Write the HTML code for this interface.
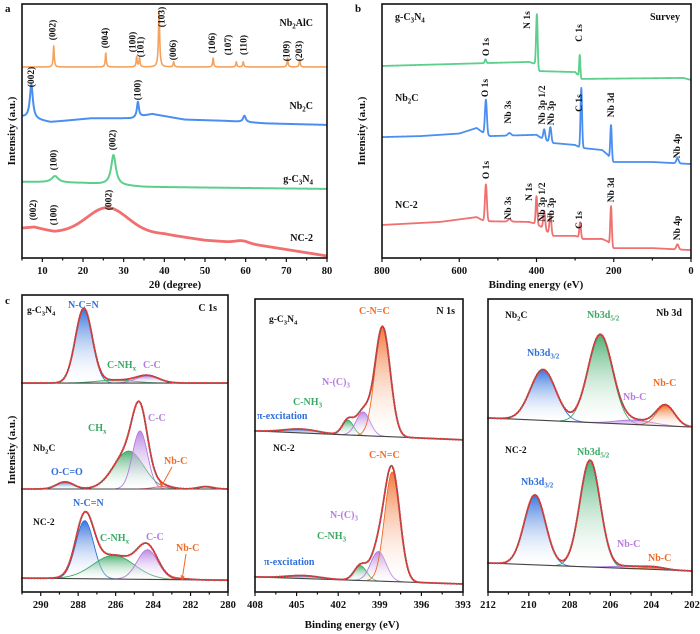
<!DOCTYPE html>
<html><head><meta charset="utf-8"><style>
html,body{margin:0;padding:0;background:#fff;}
svg{display:block;font-family:"Liberation Serif",serif;font-weight:bold;}
</style></head><body>
<svg id="fig" width="700" height="634" viewBox="0 0 700 634" xmlns="http://www.w3.org/2000/svg">
<defs>
<linearGradient id="g-blue" x1="0" y1="0" x2="0" y2="1"><stop offset="0" stop-color="#2f6fdc" stop-opacity="0.95"/><stop offset="1" stop-color="#ffffff" stop-opacity="0.1"/></linearGradient>
<linearGradient id="g-green" x1="0" y1="0" x2="0" y2="1"><stop offset="0" stop-color="#3aa864" stop-opacity="0.9"/><stop offset="1" stop-color="#ffffff" stop-opacity="0.1"/></linearGradient>
<linearGradient id="g-purple" x1="0" y1="0" x2="0" y2="1"><stop offset="0" stop-color="#b47be0" stop-opacity="0.9"/><stop offset="1" stop-color="#ffffff" stop-opacity="0.1"/></linearGradient>
<linearGradient id="g-orange" x1="0" y1="0" x2="0" y2="1"><stop offset="0" stop-color="#f26a24" stop-opacity="0.9"/><stop offset="1" stop-color="#ffffff" stop-opacity="0.1"/></linearGradient>
<linearGradient id="g-red" x1="0" y1="0" x2="0" y2="1"><stop offset="0" stop-color="#f06080" stop-opacity="0.8"/><stop offset="1" stop-color="#ffffff" stop-opacity="0.1"/></linearGradient>
</defs>
</svg>
<script>
// ---------- Panel a: XRD data ----------
const xrdNb2AlCBase = [[5,75.2],[80,75.2]];
const xrdNb2AlCPeaks = [[12.8,8.3,0.15],[25.6,5.5,0.15],[33.2,4,0.15],[33.9,3.5,0.15],[38.7,22,0.18],[42.3,2,0.15],[52,3.5,0.15],[57.7,2,0.15],[59.4,2,0.15],[70.3,3.5,0.15],[73.3,2.8,0.15]];
const xrdNb2CBase = [[5,55.5],[12,53.5],[22,55],[32,55],[37,56.7],[45,54.5],[55,54],[65,53],[80,52.4]];
const xrdNb2CPeaks = [[7.3,13.4,0.45],[33.5,6,0.3],[59.7,2.5,0.4]];
const xrdCNBase = [[5,30],[20,29.5],[35,28],[80,27.2]];
const xrdCNPeaks = [[13.1,2.5,1.0],[27.5,11.8,0.7]];
const xrdNC2Base = [[5,11.8],[8,12.2],[13,10.2],[40,9.4],[50,7],[60,5.9],[80,0.8]];
const xrdNC2Peaks = [[26,10,5],[59,0.8,1.5]];
const xrdTicks = [10,20,30,40,50,60,70,80];

// ---------- Panel b: survey data ----------
const svCNBase = [[800,75.6],[420,77.2],[402,76.4],[396,73.6],[300,73.2],[292,72],[284,70.5],[20,70.9],[0,70.1]];
const svCNPeaks = [[532,1.5,2],[399,21,2],[288,8.7,1.5]];
const svNb2CBase = [[800,47.6],[700,48],[600,49],[555,51.2],[535,49],[520,48],[400,48.5],[385,47],[360,45.3],[300,44.5],[290,43.7],[280,43.3],[230,42.5],[215,40.6],[205,37.8],[100,37.8],[0,37]];
const svNb2CPeaks = [[531,13.6,2.5],[470,1,4],[380,4,2.5],[364,6,2.5],[284,23.5,2],[207,14,2],[35,2,3]];
const svNC2Base = [[800,13],[650,14.2],[555,16.1],[535,14.5],[420,14.2],[402,13.5],[385,12],[360,8.7],[300,8.7],[290,8.3],[280,7.5],[230,7.5],[215,6.5],[205,3.9],[100,3.9],[0,3.1]];
const svNC2Peaks = [[531,14.5,2.5],[470,1,4],[400,11,2],[380,7,2.5],[364,8,2.5],[287,6,2],[207,16,2],[35,2,3]];
const svTicks = [800,600,400,200,0];

// ---------- Panel c: high-resolution fits [center, height, sigma] ----------
const c1sCNBase = [70.6,70.6];
const c1sCNComps = [[287.7,25,0.45],[286,1,1.0],[284.3,2.4,0.6]];
const c1sNb2CBase = [34.8,34.8];
const c1sNb2CComps = [[288.7,2.4,0.45],[285.3,12.8,0.8],[284.7,19.6,0.4],[283.5,0.8,0.5],[281.2,0.8,0.4]];
const c1sNC2Base = [4.7,4.0];
const c1sNC2Comps = [[287.65,19.6,0.48],[286.1,8,1.1],[284.3,10,0.55],[282.5,0.3,0.5]];
const n1sCNBase = [54.4,51.4];
const n1sCNComps = [[404.7,1.3,1.2],[401.3,5,0.4],[400.2,8,0.5],[398.8,37,0.55]];
const n1sNC2Base = [5.1,2.7];
const n1sNC2Comps = [[404.5,1,1.2],[400.4,5,0.45],[399.1,10,0.55],[398.1,37,0.55]];
const nb3dNb2CBase = [58.8,55.7];
const nb3dNb2CComps = [[209.3,17.2,0.62],[206.5,29.7,0.6],[204.8,1.5,0.9],[203.3,6.8,0.45]];
const nb3dNC2Base = [9.8,7.1];
const nb3dNC2Comps = [[209.7,23.6,0.52],[207,36,0.5],[205,0.8,0.9],[203.8,0.6,0.5]];
const c1sTicks = [290,288,286,284,282,280];
const n1sTicks = [408,405,402,399,396,393];
const nb3dTicks = [212,210,208,206,204,202];

const NS = "http://www.w3.org/2000/svg";
const svg = document.getElementById('fig');
function mk(tag, attrs, parent){const e=document.createElementNS(NS,tag);for(const k in attrs)e.setAttribute(k,attrs[k]);(parent||svg).appendChild(e);return e;}
function lin(d0,d1,r0,r1){return v=>r0+(v-d0)/(d1-d0)*(r1-r0);}
function interp(pts,x){const p=pts.slice().sort((a,b)=>a[0]-b[0]);if(x<=p[0][0])return p[0][1];for(let i=1;i<p.length;i++){if(x<=p[i][0]){const t=(x-p[i-1][0])/(p[i][0]-p[i-1][0]);return p[i-1][1]+t*(p[i][1]-p[i-1][1]);}}return p[p.length-1][1];}
function gauss(x,c,h,s){return h*Math.exp(-0.5*((x-c)/s)*((x-c)/s));}
function lor(x,c,h,w){return h/(1+((x-c)/w)*((x-c)/w));}

function panel(name,x0,x1,px0,px1,py0,py1){
  return {name:name,x0:x0,x1:x1,X:lin(x0,x1,px0,px1),Y:lin(0,100,py1,py0),px0:px0,px1:px1,py0:py0,py1:py1};
}
function box(P){
  const r=mk('rect',{x:P.px0,y:P.py0,width:P.px1-P.px0,height:P.py1-P.py0,fill:'none',stroke:'#111','stroke-width':1.6});
  
  
}
function ticks(P,majors,minorStep){
  const g=mk('g',{});
  
  
  const lo=Math.min(P.x0,P.x1),hi=Math.max(P.x0,P.x1);
  for(let v=lo;v<=hi+1e-9;v+=minorStep){
    const x=P.X(v);
    const isMaj=majors.some(m=>Math.abs(m-v)<1e-6);
    mk('line',{x1:x,x2:x,y1:P.py1,y2:P.py1+(isMaj?4:2.5),stroke:'#111','stroke-width':1.2},g);
  }
  majors.forEach(m=>{
    const t=mk('text',{x:P.X(m),y:P.py1+16,'text-anchor':'middle','font-size':10.5,fill:'#111'},g);
    t.textContent=String(m);
    
    
  });
}
function label(txt,x,y,opts){
  opts=opts||{};
  const t=mk('text',{x:x,y:y,'font-size':opts.size||10,fill:opts.color||'#111','text-anchor':opts.anchor||'start'});
  if(opts.rot) t.setAttribute('transform','rotate(-90 '+x+' '+y+')');
  if(opts.rot) t.setAttribute('dominant-baseline','middle');
  const parts=txt.split(/(_\{[^}]*\})/);
  parts.forEach(p=>{
    if(!p)return;
    if(p.startsWith('_{')){
      const s=mk('tspan',{'font-size':(opts.size||10)*0.7,dy:2.5},t);s.textContent=p.slice(2,-1);
      const r=mk('tspan',{dy:-2.5},t);r.textContent='\u200b';
    } else {const s=mk('tspan',{},t);s.textContent=p;}
  });
  
  
  return t;
}
function trace(P,base,peaks,shape,color,width,name,step){
  let d='';
  const lo=Math.min(P.x0,P.x1),hi=Math.max(P.x0,P.x1);
  for(let x=lo;x<=hi+1e-9;x+=step){
    let v=interp(base,x);
    peaks.forEach(p=>{v+=shape==='l'?lor(x,p[0],p[1],p[2]):gauss(x,p[0],p[1],p[2]);});
    d+=(d?'L':'M')+P.X(x).toFixed(2)+','+P.Y(v).toFixed(2);
  }
  const path=mk('path',{d:d,fill:'none',stroke:color,'stroke-width':width,'stroke-linejoin':'round'});
  
  
}
const compFill=['url(#g-blue)','url(#g-green)','url(#g-purple)','url(#g-orange)','url(#g-orange)'];
const compLine=['#2f6fdc','#3aa864','#b47be0','#f26a24','#f26a24'];
function fit(P,base,comps,name,fills,lines){
  const n=400,lo=P.x0,hi=P.x1;
  const bl=x=>base[0]+(base[1]-base[0])*(x-lo)/(hi-lo);
  const xs=[];for(let i=0;i<=n;i++)xs.push(lo+(hi-lo)*i/n);
  comps.forEach((c,ci)=>{
    const pts=xs.filter(x=>gauss(x,c[0],c[1],c[2])>c[1]*0.004);
    if(!pts.length)return;
    let top='',bot='';
    pts.forEach(x=>{top+=(top?'L':'M')+P.X(x).toFixed(2)+','+P.Y(bl(x)+gauss(x,c[0],c[1],c[2])).toFixed(2);});
    for(let i=pts.length-1;i>=0;i--)bot+='L'+P.X(pts[i]).toFixed(2)+','+P.Y(bl(pts[i])).toFixed(2);
    const a=mk('path',{d:top+bot+'Z',fill:(fills||compFill)[ci],stroke:'none'});
    
    
    const l=mk('path',{d:top,fill:'none',stroke:(lines||compLine)[ci],'stroke-width':0.9});
    
    
  });
  const b=mk('path',{d:'M'+P.X(lo)+','+P.Y(base[0])+'L'+P.X(hi)+','+P.Y(base[1]),stroke:'#444','stroke-width':1.1,fill:'none'});
  
  
  let d='';
  xs.forEach(x=>{let v=bl(x);comps.forEach(c=>{v+=gauss(x,c[0],c[1],c[2]);});d+=(d?'L':'M')+P.X(x).toFixed(2)+','+P.Y(v).toFixed(2);});
  const e=mk('path',{d:d,fill:'none',stroke:'#555','stroke-width':1.6});
  
  
  const r=mk('path',{d:d,fill:'none',stroke:'#ee3b3b','stroke-width':2.2,'stroke-dasharray':'0.1 3','stroke-linecap':'round'});
  
  
}

// ===== Panel a =====
const A=panel('xrd',5,80,22,327,4,258);
trace(A,xrdNb2AlCBase,xrdNb2AlCPeaks,'l','#f5a25d',1.6,'xrd-nb2alc',0.04);
trace(A,xrdNb2CBase,xrdNb2CPeaks,'l','#4a8ff0',2,'xrd-nb2c',0.05);
trace(A,xrdCNBase,xrdCNPeaks,'l','#5ccf8c',2,'xrd-gc3n4',0.05);
trace(A,xrdNC2Base,xrdNC2Peaks,'g','#f07070',2.8,'xrd-nc2',0.05);
box(A);ticks(A,xrdTicks,5);
label('a',5,12,{size:11,name:'panel-a-label'});
label('Intensity (a.u.)',12,131,{rot:true,anchor:'middle',size:11,name:'xrd-y-axis-title'});
label('2θ (degree)',175,288,{anchor:'middle',size:11,name:'xrd-x-axis-title'});
[['(002)',12.8,30],['(004)',25.6,38],['(100)',32.4,42],['(101)',34.4,47],['(103)',39.6,17],['(006)',42.4,50],['(106)',52,43],['(107)',55.9,45],['(110)',59.7,45],['(109)',70.3,51],['(203)',73.3,51],
 ['(002)',7.5,77],['(100)',33.7,90],['(100)',13,160],['(002)',27.5,140],['(002)',8,210],['(100)',13,215],['(002)',26.5,200]]
 .forEach(l=>label(l[0],A.X(l[1]),l[2],{rot:true,anchor:'middle',size:9.5,name:'peak-label'}));
label('Nb_{2}AlC',313,26,{anchor:'end',size:10,name:'nb2alc-label'});
label('Nb_{2}C',313,109,{anchor:'end',size:10,name:'nb2c-label'});
label('g-C_{3}N_{4}',313,182,{anchor:'end',size:10,name:'gc3n4-label'});
label('NC-2',313,241,{anchor:'end',size:10,name:'nc2-label'});

// ===== Panel b =====
const B=panel('survey',800,0,382,691,4,258);
trace(B,svCNBase,svCNPeaks,'g','#5ccf8c',1.8,'survey-gc3n4',0.5);
trace(B,svNb2CBase,svNb2CPeaks,'g','#4a8ff0',1.8,'survey-nb2c',0.5);
trace(B,svNC2Base,svNC2Peaks,'g','#f07070',1.8,'survey-nc2',0.5);
box(B);ticks(B,svTicks,100);
label('b',355,12,{size:11,name:'panel-b-label'});
label('Intensity (a.u.)',362,131,{rot:true,anchor:'middle',size:11,name:'survey-y-axis-title'});
label('Binding energy (eV)',536,288,{anchor:'middle',size:11,name:'survey-x-axis-title'});
label('g-C_{3}N_{4}',395,20,{size:10,name:'gc3n4-label'});
label('Survey',680,20,{anchor:'end',size:10,name:'survey-title'});
label('Nb_{2}C',395,101,{size:10,name:'nb2c-label'});
label('NC-2',395,208,{size:10,name:'nc2-label'});
[['O 1s',487,47],['N 1s',528,20],['C 1s',580,33],
 ['O 1s',486,88],['Nb 3s',509,112],['Nb 3p 1/2',543,105],['Nb 3p',552,113],['C 1s',580,103],['Nb 3d',612,105],['Nb 4p',678,146],
 ['O 1s',487,170],['Nb 3s',509,208],['N 1s',530,192],['Nb 3p 1/2',543,202],['Nb 3p',552,210],['C 1s',580,220],['Nb 3d',612,190],['Nb 4p',678,228]]
 .forEach(l=>label(l[0],l[1],l[2],{rot:true,anchor:'middle',size:9.5,name:'peak-label'}));

// ===== Panel c =====
const C1=panel('c1s',291,280,22,228,296,592);
const C2=panel('n1s',408,393,255,463,296,592);
const C3=panel('nb3d',212,202,488,692,296,592);
fit(C1,c1sCNBase,c1sCNComps,'c1s-gc3n4');
fit(C1,c1sNb2CBase,c1sNb2CComps,'c1s-nb2c',['url(#g-blue)','url(#g-green)','url(#g-purple)','url(#g-red)','url(#g-red)'],['#2f6fdc','#3aa864','#b47be0','#f06080','#f06080']);
fit(C1,c1sNC2Base,c1sNC2Comps,'c1s-nc2');
fit(C2,n1sCNBase,n1sCNComps,'n1s-gc3n4');
fit(C2,n1sNC2Base,n1sNC2Comps,'n1s-nc2');
fit(C3,nb3dNb2CBase,nb3dNb2CComps,'nb3d-nb2c');
fit(C3,nb3dNC2Base,nb3dNC2Comps,'nb3d-nc2');
[[C1,295],[C2,299],[C3,299]].forEach(p=>{
  const P=p[0];
  const r=mk('rect',{x:P.px0,y:p[1],width:P.px1-P.px0,height:P.py1-p[1],fill:'none',stroke:'#111','stroke-width':1.6});
  
  
});
ticks(C1,c1sTicks,1);ticks(C2,n1sTicks,1.5);ticks(C3,nb3dTicks,1);
label('c',5,304,{size:11,name:'panel-c-label'});
label('Intensity (a.u.)',12,450,{rot:true,anchor:'middle',size:11,name:'c-y-axis-title'});
label('Binding energy (eV)',352,628,{anchor:'middle',size:11,name:'c-x-axis-title'});
const BL='#2f6fdc',GR='#3aa864',PU='#b47be0',OR='#f26a24';
label('g-C_{3}N_{4}',27,313,{size:9.5});
label('N-C=N',68,308,{size:10,color:BL,name:'n-c-n-label'});
label('C 1s',217,311,{anchor:'end',size:10,name:'c1s-title'});
label('C-NH_{x}',107,368,{size:10,color:GR});
label('C-C',143,368,{size:10,color:PU});
label('CH_{x}',88,431,{size:10,color:GR});
label('C-C',148,421,{size:10,color:PU});
label('Nb_{2}C',33,451,{size:9.5});
label('O-C=O',51,475,{size:10,color:BL});
label('Nb-C',164,464,{size:10,color:OR});
label('N-C=N',73,506,{size:10,color:BL});
label('NC-2',33,525,{size:9.5});
label('C-NH_{x}',100,541,{size:10,color:GR});
label('C-C',146,540,{size:10,color:PU});
label('Nb-C',176,551,{size:10,color:OR});
[[172,467,161,487],[186,554,182,580]].forEach(a=>{
  const l=mk('line',{x1:a[0],y1:a[1],x2:a[2],y2:a[3],stroke:OR,'stroke-width':1});
  
  
  const h=mk('path',{d:'M'+a[2]+','+a[3]+'l-1.5,-5l4,1.5z',fill:OR});
  
  
});
label('g-C_{3}N_{4}',269,322,{size:9.5});
label('C-N=C',359,314,{size:10,color:OR});
label('N 1s',455,314,{anchor:'end',size:10,name:'n1s-title'});
label('N-(C)_{3}',322,385,{size:10,color:PU});
label('C-NH_{3}',293,405,{size:10,color:GR});
label('π-excitation',257,419,{size:10,color:BL});
label('NC-2',273,451,{size:9.5});
label('C-N=C',369,458,{size:10,color:OR});
label('N-(C)_{3}',330,518,{size:10,color:PU});
label('C-NH_{3}',317,539,{size:10,color:GR});
label('π-excitation',264,565,{size:10,color:BL});
label('Nb_{2}C',505,318,{size:9.5});
label('Nb3d_{5/2}',587,318,{size:10,color:GR});
label('Nb 3d',682,316,{anchor:'end',size:10,name:'nb3d-title'});
label('Nb3d_{3/2}',527,356,{size:10,color:BL});
label('Nb-C',623,400,{size:10,color:PU});
label('Nb-C',653,386,{size:10,color:OR});
label('NC-2',505,453,{size:9.5});
label('Nb3d_{5/2}',577,455,{size:10,color:GR});
label('Nb3d_{3/2}',521,485,{size:10,color:BL});
label('Nb-C',617,547,{size:10,color:PU});
label('Nb-C',648,561,{size:10,color:OR});
</script>
</body></html>
